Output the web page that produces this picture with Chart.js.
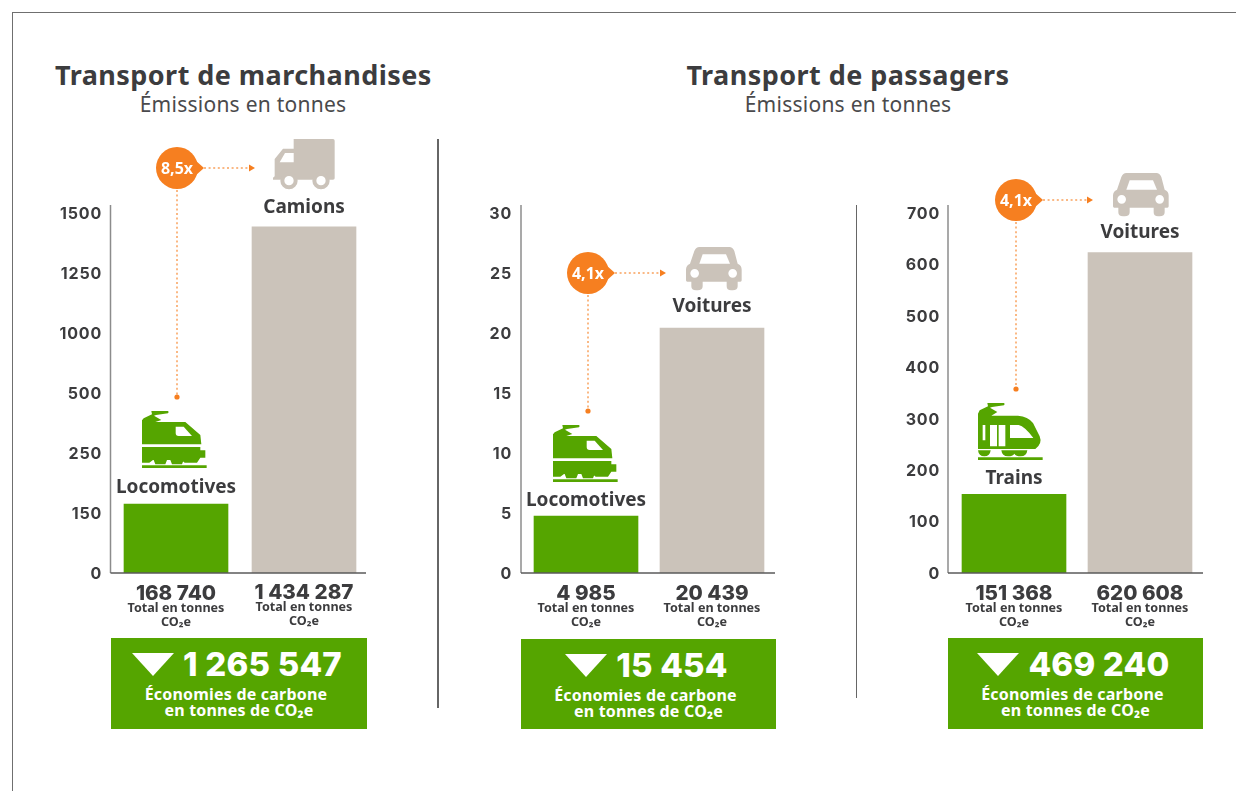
<!DOCTYPE html>
<html lang="fr">
<head>
<meta charset="utf-8">
<title>Émissions en tonnes</title>
<script src="https://cdn.jsdelivr.net/npm/chart.js@4"></script>
<style>
  html, body { margin: 0; background: #fff; }
  #page { position: relative; width: 1236px; height: 791px; overflow: hidden; font-family: "Noto Sans", sans-serif; color: #3c3c3e; }
  #page canvas { position: absolute; }
  .frame { position: absolute; left: 12px; top: 12px; width: 1300px; height: 900px; border: 1px solid #6f6f6f; }
  .rule { position: absolute; background: #666; }
  .head { position: absolute; top: 58px; text-align: center; white-space: nowrap; }
  .head b { display: block; font-size: 27px; line-height: 34px; letter-spacing: .45px; }
  .head span { display: block; font-size: 21px; line-height: 24px; letter-spacing: .25px; color: #4a4a4c; }
  .saving { position: absolute; top: 638px; height: 91px; background: #55a500; color: #fff; text-align: center; }
  .saving .num { position: absolute; left: 0; right: 4px; top: 6px; font: 800 33px/40px Inter, sans-serif; letter-spacing: .2px; }
  .saving .tri { display: inline-block; width: 0; height: 0; border-left: 21px solid transparent; border-right: 21px solid transparent; border-top: 23px solid #fff; margin-right: 9px; }
  .saving .txt { position: absolute; left: 0; right: 0; top: 48px; font: 700 16px/16px "Noto Sans", sans-serif; letter-spacing: .2px; }
  .saving .txt span { position: relative; left: -3px; }
</style>
</head>
<body>
<div id="page">
  <div class="frame"></div>
  <div class="rule" style="left:437px;top:139px;width:2px;height:569px"></div>
  <div class="rule" style="left:856px;top:205px;width:1px;height:493px"></div>
  <div class="head" style="left:55px;width:376px"><b>Transport de marchandises</b><span>Émissions en tonnes</span></div>
  <div class="head" style="left:660px;width:376px"><b>Transport de passagers</b><span>Émissions en tonnes</span></div>

  <div class="saving" style="left:111px;width:256px"><div class="num"><i class="tri"></i>1 265 547</div><div class="txt"><span>Économies de carbone</span><br>en tonnes de CO₂e</div></div>
  <div class="saving" style="left:521px;width:255px;top:639px;height:90px"><div class="num"><i class="tri"></i>15 454</div><div class="txt"><span>Économies de carbone</span><br>en tonnes de CO₂e</div></div>
  <div class="saving" style="left:948px;width:255px"><div class="num"><i class="tri"></i>469 240</div><div class="txt"><span>Économies de carbone</span><br>en tonnes de CO₂e</div></div>

  <canvas id="freight"></canvas>
  <canvas id="passengerKm"></canvas>
  <canvas id="passengerTotal"></canvas>
</div>

<script>
const GREEN = "#55a500";
const BEIGE = "#cbc3ba";
const ORANGE = "#f67f20";
const DARK = "#3c3c3e";
const TICK_FONT = "Inter, sans-serif";

// ---- data
const FREIGHT_LABELS = ["Locomotives", "Camions"];
const FREIGHT_VALUES = [165, 1442];
const FREIGHT_TOTALS = ["168 740", "1 434 287"];
const FREIGHT_TICKS = [0, 150, 250, 500, 1000, 1250, 1500];

const PASSENGER_KM_LABELS = ["Locomotives", "Voitures"];
const PASSENGER_KM_VALUES = [4.75, 20.4];
const PASSENGER_KM_TOTALS = ["4 985", "20 439"];
const PASSENGER_KM_TICKS = [0, 5, 10, 15, 20, 25, 30];

const PASSENGER_LABELS = ["Trains", "Voitures"];
const PASSENGER_VALUES = [153, 623];
const PASSENGER_TOTALS = ["151 368", "620 608"];
const PASSENGER_TICKS = [0, 100, 200, 300, 400, 500, 600, 700];

// ---- icons, in 3x units from their top left corner
const ICONS = {
  truck: [
    [BEIGE, "M62 0H180Q185 0 185 5V118Q185 122 180 122H0V116L5 112V60L30 29H62Z"],
    [BEIGE, "M22 125a26 26 0 1 0 52 0a26 26 0 1 0-52 0ZM118 125a26 26 0 1 0 52 0a26 26 0 1 0-52 0Z"],
    ["#fff", "M34 125a14 14 0 1 0 28 0a14 14 0 1 0-28 0ZM130 125a14 14 0 1 0 28 0a14 14 0 1 0-28 0Z"],
    ["#fff", "M62 42H36L20 70H62Z"],
  ],
  car: [
    [BEIGE, "M40 0H130Q140 0 145 12L155 50Q167 55 167 68V100Q167 104 163 104H155V118Q155 130 140 130H135Q122 130 122 118V104H50V118Q50 130 35 130H30Q16 130 16 118V104H4Q0 104 0 100V68Q0 55 12 50L25 12Q30 0 40 0Z"],
    ["#fff", "M50 22H120L132 50H40Z"],
    ["#fff", "M13 79a13 13 0 1 0 26 0a13 13 0 1 0-26 0ZM127 79a13 13 0 1 0 26 0a13 13 0 1 0-26 0Z"],
  ],
  loco: [
    [GREEN, "M28 0H78Q82 3 78 7L42 12L36 14L58 27L40 33H130L175 72L178 100H0V28L5 22L30 10Z"],
    [GREEN, "M0 108H175V118H190V140H175L165 155H128L118 147H33L22 155H0Z"],
    [GREEN, "M35 147H75L70 160H40ZM85 147H125L120 160H90Z"],
    [GREEN, "M0 163H194V171H0Z"],
    ["#fff", "M101 47H125L150 75H110Q101 75 101 66Z"],
  ],
  train: [
    [GREEN, "M28 0H78Q82 3 78 7L42 12L36 14L58 27L40 38H120Q150 40 165 60L185 100Q194 122 172 138H0V32L5 22L30 10Z"],
    [GREEN, "M0 142H38Q36 160 19 160Q2 160 0 142ZM70 142H148Q146 160 128 160Q114 160 109 152Q104 160 90 160Q72 160 70 142Z"],
    [GREEN, "M0 163H194V171H0Z"],
    ["#fff", "M14 66H22V112H14ZM36 66H57V130H36ZM62 66H82V130H62ZM96 66H122Q140 70 166 105H96Z"],
  ],
};

// the freight axis is not regular: every tick gets the same space
class TickStepScale extends Chart.LinearScale {
  static id = "tickStep";
  static defaults = Chart.LinearScale.defaults;
  buildTicks() {
    return this.options.tickValues.map((value) => ({ value }));
  }
  getPixelForValue(value) {
    const stops = this.options.tickValues;
    let i = 0;
    while (i < stops.length - 2 && value > stops[i + 1]) i++;
    const step = (value - stops[i]) / (stops[i + 1] - stops[i]);
    return this.getPixelForDecimal((i + step) / (stops.length - 1));
  }
}
Chart.register(TickStepScale);

function drawIcon(ctx, parts, x, y) {
  ctx.save();
  ctx.translate(x, y);
  ctx.scale(1 / 3, 1 / 3);
  parts.forEach(([color, d]) => {
    ctx.fillStyle = color;
    ctx.fill(new Path2D(d));
  });
  ctx.restore();
}

function dotted(ctx, x1, y1, x2, y2) {
  ctx.save();
  ctx.strokeStyle = "#f9a15c";
  ctx.lineWidth = 1.5;
  ctx.setLineDash([2, 2.6]);
  ctx.beginPath();
  ctx.moveTo(x1, y1);
  ctx.lineTo(x2, y2);
  ctx.stroke();
  ctx.restore();
}

const decorPlugin = {
  id: "decor",
  beforeDraw(chart) {
    chart.ctx.letterSpacing = "0.8px";
  },
  afterDatasetsDraw(chart, args, opts) {
    const { ctx, chartArea, scales } = chart;
    const bars = chart.getDatasetMeta(0).data;
    const dx = -chart.canvas.offsetLeft;
    const dy = -chart.canvas.offsetTop;
    ctx.save();
    ctx.letterSpacing = "0px";

    // axis lines
    ctx.lineWidth = 1.5;
    ctx.strokeStyle = "#8c8c8c";
    ctx.beginPath();
    ctx.moveTo(opts.axisLeft + dx, 205 + dy);
    ctx.lineTo(opts.axisLeft + dx, chartArea.bottom);
    ctx.stroke();
    ctx.strokeStyle = "#5a5a5a";
    ctx.beginPath();
    ctx.moveTo(opts.axisLeft + dx, chartArea.bottom);
    ctx.lineTo(opts.axisRight + dx, chartArea.bottom);
    ctx.stroke();

    // names above the bars, totals below
    ctx.textAlign = "center";
    bars.forEach((bar, i) => {
      ctx.fillStyle = DARK;
      ctx.font = "700 19px 'Noto Sans', sans-serif";
      ctx.textBaseline = "alphabetic";
      ctx.fillText(scales.x.getLabelForValue(i), bar.x, bar.y - opts.nameGap[i]);
      ctx.font = "800 20.6px " + TICK_FONT;
      ctx.fillText(opts.totals[i], bar.x, chartArea.bottom + 26 + opts.totalShift[i]);
      ctx.font = "700 12.6px 'Noto Sans', sans-serif";
      ctx.fillText("Total en tonnes", bar.x, chartArea.bottom + 38 + opts.totalShift[i]);
      ctx.fillText("CO₂e", bar.x, chartArea.bottom + 52 + opts.totalShift[i]);
      const icon = opts.icons[i];
      drawIcon(ctx, ICONS[icon.name], icon.x + dx, icon.y + dy);
    });

    // ratio bubble with its two dotted leaders
    const b = opts.bubble;
    const bx = b.x + dx;
    const by = b.y + dy;
    dotted(ctx, bx, by + 22, bx, b.end + dy);
    dotted(ctx, bx + 27, by, b.arrow + dx - 4, by);
    ctx.fillStyle = ORANGE;
    ctx.beginPath();
    ctx.arc(bx, b.end + dy, 2.6, 0, Math.PI * 2);
    ctx.fill();
    ctx.beginPath();
    ctx.moveTo(b.arrow + dx - 6, by - 3.5);
    ctx.lineTo(b.arrow + dx, by);
    ctx.lineTo(b.arrow + dx - 6, by + 3.5);
    ctx.closePath();
    ctx.fill();
    ctx.beginPath();
    ctx.arc(bx, by, 21, 0, Math.PI * 2);
    ctx.fill();
    ctx.beginPath();
    ctx.moveTo(bx + 18, by - 8);
    ctx.lineTo(bx + 27, by);
    ctx.lineTo(bx + 18, by + 8);
    ctx.closePath();
    ctx.fill();
    ctx.fillStyle = "#fff";
    ctx.font = "700 16px 'Noto Sans', sans-serif";
    ctx.textBaseline = "middle";
    ctx.fillText(b.text, bx, by + 1);
    ctx.restore();
  },
};

function makeChart(id, box, labels, values, ticks, decor, yType) {
  const canvas = document.getElementById(id);
  canvas.style.left = box.left + "px";
  canvas.style.top = "130px";
  canvas.style.width = box.width + "px";
  canvas.style.height = "510px";
  canvas.width = box.width;
  canvas.height = 510;
  const y = {
    min: ticks[0],
    max: ticks[ticks.length - 1],
    border: { display: false },
    grid: { display: false, drawTicks: false },
    afterFit: (scale) => { scale.width = box.axisWidth; },
    ticks: {
      padding: box.tickPad,
      labelOffset: box.labelShift,
      color: DARK,
      autoSkip: false,
      font: { family: TICK_FONT, size: 16, weight: "700" },
      callback: (v) => String(v),
    },
  };
  if (yType) {
    y.type = yType;
    y.tickValues = ticks;
  } else {
    y.ticks.stepSize = ticks[1] - ticks[0];
  }
  return new Chart(canvas, {
    type: "bar",
    data: {
      labels,
      datasets: [{
        data: values,
        backgroundColor: [GREEN, BEIGE],
        barThickness: 104,
      }],
    },
    options: {
      responsive: false,
      animation: false,
      layout: { padding: { top: 83, bottom: 67, left: 0, right: 0 } },
      plugins: { legend: { display: false }, tooltip: { enabled: false }, decor },
      scales: { x: { display: false, grid: { display: false } }, y },
    },
    plugins: [decorPlugin],
  });
}

makeChart("freight", { left: 40, width: 328, axisWidth: 72, tickPad: 10, labelShift: 1 },
  FREIGHT_LABELS, FREIGHT_VALUES, FREIGHT_TICKS, {
    axisLeft: 110.5, axisRight: 366, totals: FREIGHT_TOTALS, totalShift: [1, 0], nameGap: [11, 14],
    icons: [{ name: "loco", x: 142, y: 411 }, { name: "truck", x: 273, y: 139 }],
    bubble: { x: 177, y: 168, end: 397, arrow: 255, text: "8,5x" },
  }, "tickStep");

makeChart("passengerKm", { left: 450, width: 325, axisWidth: 73, tickPad: 11, labelShift: 1 },
  PASSENGER_KM_LABELS, PASSENGER_KM_VALUES, PASSENGER_KM_TICKS, {
    axisLeft: 521, axisRight: 776, totals: PASSENGER_KM_TOTALS, totalShift: [1, 1], nameGap: [10, 16],
    icons: [{ name: "loco", x: 553, y: 425 }, { name: "car", x: 686, y: 247 }],
    bubble: { x: 588, y: 273, end: 411, arrow: 666, text: "4,1x" },
  });

makeChart("passengerTotal", { left: 880, width: 323, axisWidth: 71, tickPad: 11, labelShift: 1 },
  PASSENGER_LABELS, PASSENGER_VALUES, PASSENGER_TICKS, {
    axisLeft: 948, axisRight: 1203, totals: PASSENGER_TOTALS, totalShift: [1, 1], nameGap: [10, 15],
    icons: [{ name: "train", x: 978, y: 403 }, { name: "car", x: 1113, y: 173 }],
    bubble: { x: 1016, y: 200, end: 389, arrow: 1093, text: "4,1x" },
  });
</script>
</body>
</html>
